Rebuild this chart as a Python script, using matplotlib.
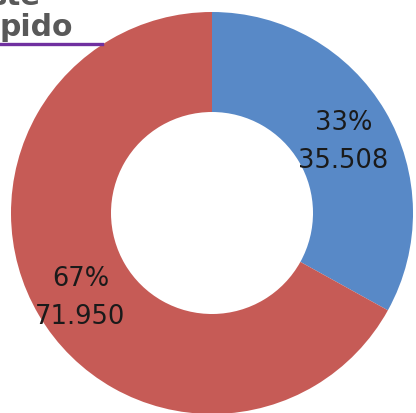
import numpy as np
import matplotlib.pyplot as plt

categories = ["A", "B"]
values = [35508, 71950]
colors = ["#5889c7", "#c65b56"]
title_lines = ["ste", "pido"]


def label_for(pct):
    v = values[int(np.argmin([abs(pct - 100 * x / sum(values)) for x in values]))]
    return f"{pct:.0f}%\n" + f"{v:,}".replace(",", ".")


fig = plt.figure(figsize=(4.16, 4.14), dpi=100)
ax = fig.add_axes([0, 0, 1, 1])
ax.set_xlim(0, 416)
ax.set_ylim(0, 414)
ax.set_aspect("equal")
ax.axis("off")

wedges, texts, autotexts = ax.pie(
    values, colors=colors, startangle=90, counterclock=False,
    center=(212, 200), radius=201, autopct=label_for, pctdistance=0.76,
    wedgeprops=dict(width=100, linewidth=0),
    textprops=dict(fontsize=18.5, color="#1a1a1a", linespacing=1.6),
)
# labels sit a little lower than the wedge middle in the original
for t in autotexts:
    x, y = t.get_position()
    t.set_position((x, y - 6))
ax.set_xlim(0, 416)
ax.set_ylim(0, 414)

# cropped title in the top-left corner
fig.text(-0.025, 1.0 - 5 / 414, title_lines[0], fontsize=21, fontweight="bold",
         color="#595959", va="baseline", ha="left")
fig.text(0.0, 1.0 - 36 / 414, title_lines[1], fontsize=21.5, fontweight="bold",
         color="#595959", va="baseline", ha="left")
fig.add_artist(plt.Line2D([0, 102 / 416], [1 - 45 / 414, 1 - 45 / 414],
                          color="#7030a0", linewidth=2.4))

plt.savefig("out.png", dpi=100)
